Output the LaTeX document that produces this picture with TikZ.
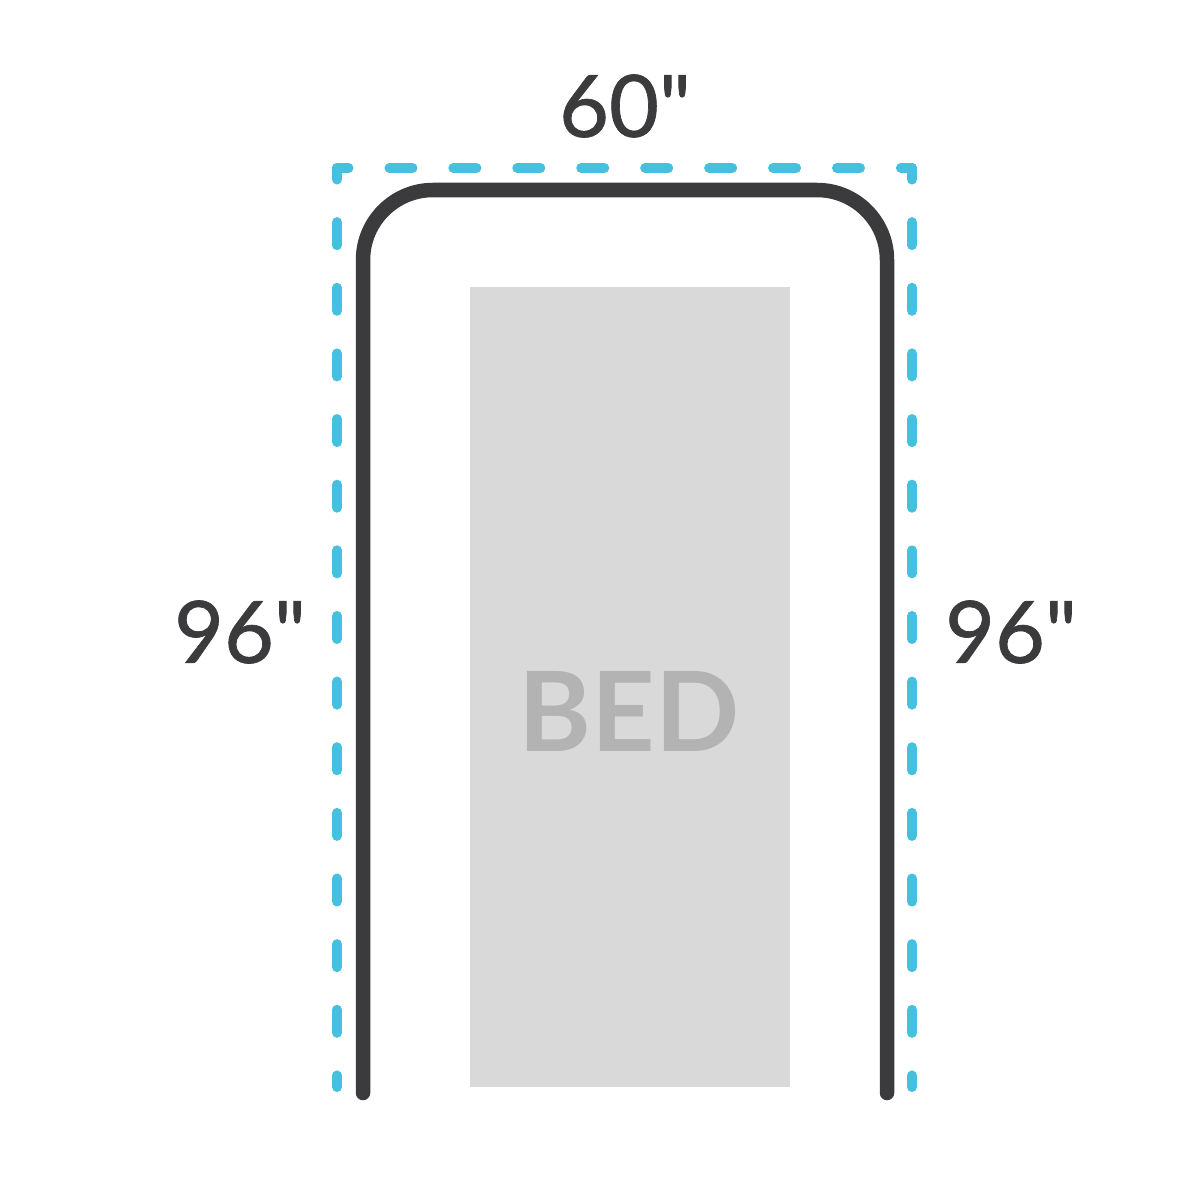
\documentclass[tikz,border=0pt]{standalone}
\usepackage{fontspec}
\setmainfont{Lato}[Ligatures=TeXOff]
\usepackage{xcolor}
\usepackage{tikz}
\usetikzlibrary{positioning, calc}

\definecolor{railgray}{HTML}{3B3B3D}
\definecolor{dimblue}{HTML}{45C1DF}
\definecolor{bedfill}{HTML}{D9D9D9}
\definecolor{bedtextgray}{HTML}{B3B3B3}

\begin{document}
\begin{tikzpicture}[
    x=0.01cm, y=-0.01cm,
    rail/.style={draw=railgray, line width=1.45mm, line cap=round, line join=round, rounded corners=0.7cm},
    dimline/.style={draw=dimblue, line width=1mm, line cap=round},
    vdash/.style={dimline, dash pattern=on 2.3mm off 4.26mm, dash phase=1.15mm},
    hdash/.style={dimline, dash pattern=on 2.3mm off 4.09mm, dash phase=1.15mm},
    bedbox/.style={rectangle, fill=bedfill, inner sep=0pt, minimum width=3.2cm, minimum height=8cm},
    bedtext/.style={text=bedtextgray, font=\fontsize{31.5}{36}\selectfont\bfseries},
    dimlabel/.style={text=railgray, font=\fontsize{24.5}{28}\selectfont\addfontfeature{FakeBold=0.8}}
]

    % Page
    \useasboundingbox[fill=white] (0,0) rectangle (1200,1200);

    % Bed
    \node[bedbox] (bed) at (630,687) {};
    \node[bedtext] (bedlabel) at (629,711) {BED};

    % Corners of the dimension frame
    \coordinate (dimTL) at (337,168);
    \coordinate (dimTR) at (912,168);
    \coordinate (dimBL) at (337,1087);
    \coordinate (dimBR) at (912,1087);

    % Rail round the bed
    \coordinate (railBL) at (363,1093);
    \coordinate (railBR) at (887,1093);
    \draw[rail] (railBL) -- (363,190) -- (887,190) -- (railBR);

    % Dashed dimension frame
    \draw[vdash] (dimTL) -- (dimBL);
    \draw[vdash] (dimTR) -- (dimBR);
    \draw[hdash] (dimTL) -- (dimTR);

    % Labels
    \node[dimlabel] (widthlabel) at (625,106) {60"};
    \node[dimlabel] (leftlabel) at (240,632) {96"};
    \node[dimlabel] (rightlabel) at (1011,632) {96"};

\end{tikzpicture}
\end{document}
